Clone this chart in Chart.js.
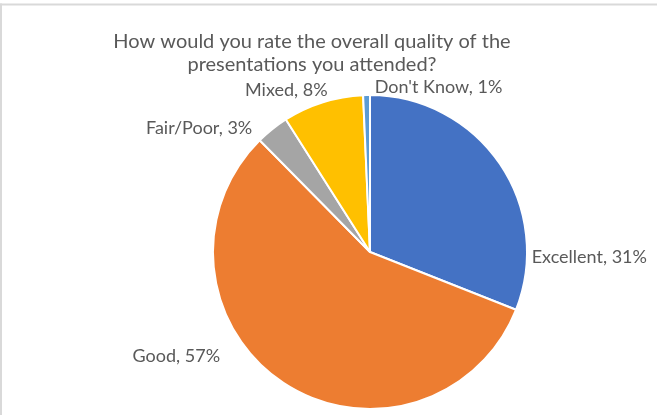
<!DOCTYPE html>
<html>
<head>
<meta charset="utf-8">
<script src="https://cdn.jsdelivr.net/npm/chart.js@4/dist/chart.umd.min.js"></script>
<style>
  html, body { margin: 0; padding: 0; background: #ffffff; }
  #wrap { position: relative; width: 657px; height: 415px; }
</style>
</head>
<body>
<div id="wrap"><canvas id="c" width="657" height="415"></canvas></div>
<script>
const categories = ["Excellent", "Good", "Fair/Poor", "Mixed", "Don't Know"];
const shares = [31.0, 56.6, 3.4, 8.3, 0.7];
const shareLabels = ["31%", "57%", "3%", "8%", "1%"];
const titleLines = ["How would you rate the overall quality of the", "presentations you attended?"];
const colors = ["#4472C4", "#ED7D31", "#A5A5A5", "#FFC000", "#5B9BD5"];

// label placement relative to pie centre, in units of radius (style only)
const labelPlacement = [
  { fx: 1.03, fy: 0.03, align: "left" },
  { fx: -0.955, fy: 0.665, align: "right" },
  { fx: -0.75, fy: -0.79, align: "right" },
  { fx: -0.27, fy: -1.03, align: "right" },
  { fx: 0.03, fy: -1.05, align: "left" }
];

const textColor = "#595959";
const fontFamily = "Lato, 'Open Sans', sans-serif";

const decorPlugin = {
  id: "decor",
  beforeDraw(chart) {
    const ctx = chart.ctx;
    ctx.save();
    ctx.fillStyle = "#D9D9D9";
    ctx.fillRect(0, 3.5, chart.width, 2);
    ctx.fillRect(0, 3.5, 2, chart.height);
    ctx.restore();
  },
  afterDraw(chart) {
    const ctx = chart.ctx;
    ctx.save();
    ctx.fillStyle = textColor;
    ctx.textBaseline = "middle";
    ctx.textAlign = "center";
    ctx.font = "20px " + fontFamily;
    const tx = 312;
    titleLines.forEach((line, i) => ctx.fillText(line, tx, 42 + i * 23));

    const meta = chart.getDatasetMeta(0);
    ctx.font = "18px " + fontFamily;
    meta.data.forEach((arc, i) => {
      const p = labelPlacement[i];
      const r = arc.outerRadius;
      const x = arc.x + p.fx * r;
      const y = arc.y + p.fy * r;
      ctx.textAlign = p.align;
      ctx.fillText(categories[i] + ", " + shareLabels[i], x, y);
    });
    ctx.restore();
  }
};

new Chart(document.getElementById("c"), {
  type: "pie",
  data: {
    labels: categories,
    datasets: [{
      data: shares,
      backgroundColor: colors,
      borderColor: "#ffffff",
      borderWidth: 2
    }]
  },
  options: {
    responsive: false,
    animation: false,
    layout: { padding: { left: 212, right: 129, top: 94, bottom: 5 } },
    plugins: {
      legend: { display: false },
      title: { display: false },
      tooltip: { enabled: false }
    }
  },
  plugins: [decorPlugin]
});
</script>
</body>
</html>
